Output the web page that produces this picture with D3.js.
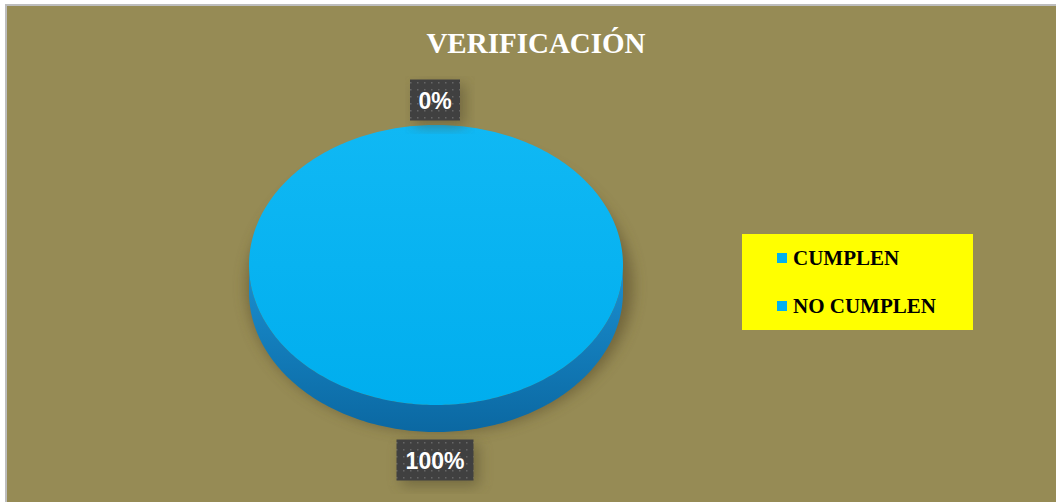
<!DOCTYPE html>
<html lang="es">
<head>
<meta charset="UTF-8">
<title>Verificación</title>
<style>
  body { margin: 0; background: #fff; }
  svg { display: block; }
  .title { font-family: "Liberation Serif", "Times New Roman", serif; font-weight: bold; fill: #fff; }
  .legend text { font-family: "Liberation Serif", "Times New Roman", serif; font-weight: bold; fill: #000; }
  .dlabel { font-family: "Liberation Sans", Arial, sans-serif; font-weight: bold; fill: #fff; }
</style>
</head>
<body>
<svg width="1056" height="502"></svg>
<script src="https://d3js.org/d3.v7.min.js"></script>
<script>
var categories = ["CUMPLEN", "NO CUMPLEN"];
var values = [0, 100];
var percentLabels = ["0%", "100%"];
var chartTitle = "VERIFICACIÓN";

var svg = d3.select("svg"),
    width = +svg.attr("width"),
    height = +svg.attr("height");

var pieCx = 436, pieCy = 265, rx = 187, ry = 140, depth = 27;

var color = d3.scaleOrdinal().domain(categories).range(["#00B0F0", "#00B0F0"]);

var defs = svg.append("defs");

var shadow = defs.append("filter").attr("id", "shadow")
    .attr("x", "-20%").attr("y", "-20%").attr("width", "140%").attr("height", "140%");
shadow.append("feGaussianBlur").attr("stdDeviation", 7);

var topGrad = defs.append("linearGradient").attr("id", "topGrad")
    .attr("x1", 0).attr("y1", 0).attr("x2", 0).attr("y2", 1);
topGrad.append("stop").attr("offset", "0%").attr("stop-color", "#10B8F4");
topGrad.append("stop").attr("offset", "100%").attr("stop-color", "#00AEEE");

var sideGrad = defs.append("linearGradient").attr("id", "sideGrad")
    .attr("x1", 0).attr("y1", 0).attr("x2", 0).attr("y2", 1);
sideGrad.append("stop").attr("offset", "0%").attr("stop-color", "#1A8FD0");
sideGrad.append("stop").attr("offset", "100%").attr("stop-color", "#0B68A2");

var dots = defs.append("pattern").attr("id", "dots")
    .attr("width", 7).attr("height", 7).attr("patternUnits", "userSpaceOnUse");
dots.append("rect").attr("width", 7).attr("height", 7).attr("fill", "#404040");
dots.append("rect").attr("x", 3).attr("y", 3).attr("width", 1.5).attr("height", 1.5).attr("fill", "#666");

// background + border
svg.append("rect").attr("width", width).attr("height", height).attr("fill", "#fff");
svg.append("rect")
    .attr("x", 6).attr("y", 5)
    .attr("width", width).attr("height", height)
    .attr("fill", "#968B55")
    .attr("stroke", "#BDBDBD").attr("stroke-width", 2);

svg.append("text")
    .attr("class", "title")
    .attr("x", 536).attr("y", 53)
    .attr("text-anchor", "middle")
    .style("font-size", "29px")
    .text(chartTitle);

var pie = d3.pie().sort(null).value(function(d) { return d; });
var slices = pie(values);

function pt(a, dy) {
  return [pieCx + rx * Math.sin(a), pieCy - ry * Math.cos(a) + (dy || 0)];
}

function topPath(d) {
  var n = Math.max(2, Math.ceil((d.endAngle - d.startAngle) / 0.02));
  var p = d3.path();
  p.moveTo(pieCx, pieCy);
  for (var i = 0; i <= n; i++) {
    var q = pt(d.startAngle + (d.endAngle - d.startAngle) * i / n);
    p.lineTo(q[0], q[1]);
  }
  p.closePath();
  return p.toString();
}

function sidePath(d) {
  var a0 = Math.max(d.startAngle, Math.PI / 2),
      a1 = Math.min(d.endAngle, Math.PI * 1.5);
  if (a1 <= a0) return null;
  var n = Math.ceil((a1 - a0) / 0.02);
  var p = d3.path(), i, q;
  q = pt(a0); p.moveTo(q[0], q[1]);
  for (i = 1; i <= n; i++) { q = pt(a0 + (a1 - a0) * i / n); p.lineTo(q[0], q[1]); }
  for (i = n; i >= 0; i--) { q = pt(a0 + (a1 - a0) * i / n, depth); p.lineTo(q[0], q[1]); }
  p.closePath();
  return p.toString();
}

var pieG = svg.append("g");

// soft shadow
pieG.append("ellipse")
    .attr("cx", pieCx + 4).attr("cy", pieCy + depth / 2 + 8)
    .attr("rx", rx + 6).attr("ry", ry + 6)
    .attr("fill", "#5a4e2a").attr("opacity", 0.6)
    .attr("filter", "url(#shadow)");

pieG.selectAll(".side")
    .data(slices.filter(function(d) { return sidePath(d); }))
    .join("path")
    .attr("class", "side")
    .attr("d", sidePath)
    .attr("fill", "url(#sideGrad)");

pieG.selectAll(".top")
    .data(slices.filter(function(d) { return d.endAngle > d.startAngle; }))
    .join("path")
    .attr("class", "top")
    .attr("d", topPath)
    .attr("fill", function(d) { return color(categories[d.index]); })
    .style("fill", "url(#topGrad)");

// data labels
var labelG = svg.selectAll(".lbl")
    .data(slices)
    .join("g")
    .attr("class", "lbl")
    .attr("transform", function(d) {
      var a = (d.startAngle + d.endAngle) / 2;
      var down = Math.cos(a) < 0;
      var x = pieCx + (rx + 22) * Math.sin(a) - 1;
      var y = down ? pieCy + (ry + 55) * -Math.cos(a) : pieCy - (ry + 25) * Math.cos(a);
      return "translate(" + x + "," + y + ")";
    });

labelG.each(function(d) {
  var g = d3.select(this);
  var txt = percentLabels[d.index];
  var w = txt.length > 2 ? 77 : 50, h = 41;
  g.append("rect").attr("x", -w / 2 + 5).attr("y", -h / 2 + 5)
    .attr("width", w).attr("height", h)
    .attr("fill", "#5b5232").attr("opacity", 0.6).attr("filter", "url(#shadow)");
  g.append("rect").attr("x", -w / 2).attr("y", -h / 2)
    .attr("width", w).attr("height", h)
    .attr("fill", "url(#dots)");
  g.append("text").attr("class", "dlabel")
    .attr("text-anchor", "middle").attr("y", 9)
    .style("font-size", "23px")
    .text(txt);
});

// legend
var legend = svg.append("g").attr("class", "legend");
legend.append("rect")
    .attr("x", 742).attr("y", 234).attr("width", 231).attr("height", 96)
    .attr("fill", "#FFFF00");

var legendY = d3.scalePoint().domain(categories).range([258, 306]);

var items = legend.selectAll(".item")
    .data(categories)
    .join("g")
    .attr("class", "item")
    .attr("transform", function(d) { return "translate(777," + legendY(d) + ")"; });

items.append("rect")
    .attr("x", 0).attr("y", -5).attr("width", 10).attr("height", 10)
    .attr("fill", function(d) { return color(d); });

items.append("text")
    .attr("x", 16).attr("y", 7)
    .style("font-size", "21px")
    .text(function(d) { return d; });
</script>
</body>
</html>
